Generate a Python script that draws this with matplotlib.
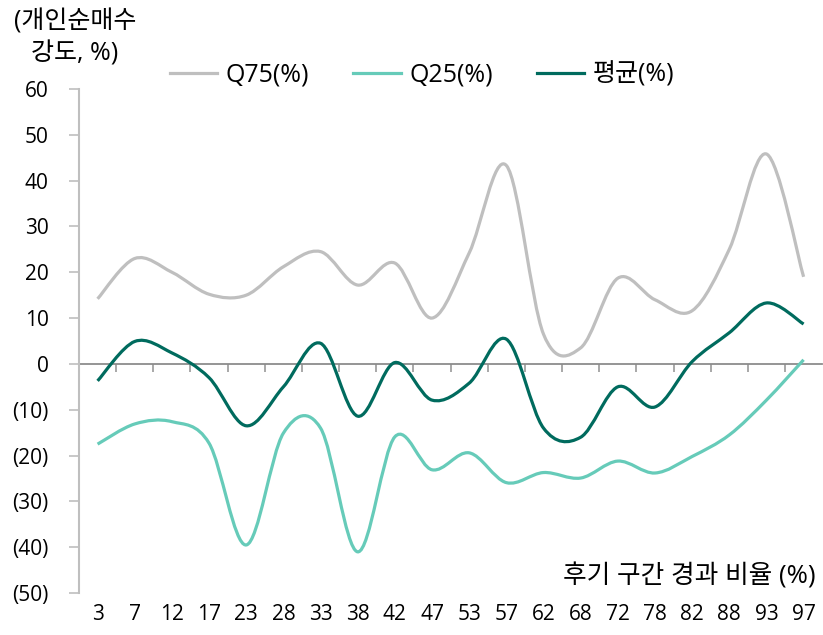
import numpy as np
import matplotlib
matplotlib.use("Agg")
import matplotlib.pyplot as plt
from matplotlib.path import Path
from matplotlib.patches import PathPatch
from matplotlib.lines import Line2D
from matplotlib.ticker import FuncFormatter

plt.rcParams['font.family'] = ['Open Sans', 'Noto Sans CJK KR', 'DejaVu Sans']

# data
categories = ['3', '7', '12', '17', '23', '28', '33', '38', '42', '47',
              '53', '57', '62', '68', '72', '78', '82', '88', '93', '97']
q75 = [14.2, 23.0, 20.0, 15.2, 15.0, 21.2, 24.5, 17.2, 22.0, 10.0,
       24.2, 43.3, 6.5, 3.5, 18.7, 14.0, 11.6, 25.0, 45.8, 19.0]
q25 = [-17.5, -13.1, -12.6, -17.3, -39.5, -15.1, -14.0, -41.0, -15.9, -23.1,
       -19.4, -25.9, -23.7, -24.9, -21.2, -23.8, -20.2, -15.5, -7.9, 0.9]
mean = [-3.7, 4.9, 2.4, -3.0, -13.5, -5.0, 4.5, -11.4, 0.3, -7.9,
        -4.2, 5.4, -14.0, -16.0, -5.0, -9.4, 0.5, 6.8, 13.3, 8.7]

series = [('Q75(%)', q75, '#bfbfbf'),
          ('Q25(%)', q25, '#66cbb9'),
          ('평균(%)', mean, '#006b5e')]


def smooth_path(y):
    # excel style smoothed line (catmull-rom as cubic bezier)
    x = np.arange(len(y), dtype=float)
    p = np.column_stack([x, np.asarray(y, dtype=float)])
    verts = [p[0]]
    codes = [Path.MOVETO]
    n = len(p)
    for i in range(n - 1):
        p0 = p[i - 1] if i > 0 else p[i]
        p3 = p[i + 2] if i + 2 < n else p[i + 1]
        c1 = p[i] + (p[i + 1] - p0) / 6
        c2 = p[i + 1] - (p3 - p[i]) / 6
        verts += [c1, c2, p[i + 1]]
        codes += [Path.CURVE4] * 3
    return Path(verts, codes)


fig = plt.figure(figsize=(8.23, 6.35), dpi=100)
ax = fig.add_axes([0.096, 0.066, 0.903, 0.794])

handles = []
for name, vals, col in series:
    ax.add_patch(PathPatch(smooth_path(vals), facecolor='none', edgecolor=col,
                           lw=2.3, capstyle='butt'))
    handles.append(Line2D([], [], color=col, lw=2.3))

ax.set_xlim(-0.5, len(categories) - 0.5)
ax.set_ylim(-50, 60)
ax.set_yticks(range(-50, 61, 10))
ax.yaxis.set_major_formatter(FuncFormatter(
    lambda v, p: f'({abs(int(v))})' if v < 0 else f'{int(v)}'))
ax.tick_params(axis='y', direction='out', length=7, width=1.2, color='#bfbfbf',
               pad=15, labelsize=15, labelcolor='black')

# labels at the bottom, no marks
ax.set_xticks(range(len(categories)))
ax.set_xticklabels(categories)
ax.tick_params(axis='x', length=0, pad=8, labelsize=15)

for s in ['top', 'right', 'bottom']:
    ax.spines[s].set_visible(False)
ax.spines['left'].set_color('#bfbfbf')
ax.spines['left'].set_linewidth(1.5)

# zero line with tick marks between categories
sec = ax.secondary_xaxis(0, transform=ax.transData)
sec.set_xticks(np.arange(0.5, len(categories) - 0.5, 1.0))
sec.tick_params(axis='x', direction='out', length=6, width=1.2,
                color='#9a9a9a', labelbottom=False)
sec.spines['bottom'].set_color('#8c8c8c')
sec.spines['bottom'].set_linewidth(1.3)

fig.text(0.091, 0.966, '(개인순매수', ha='center', va='center', fontsize=18)
fig.text(0.091, 0.915, '강도, %)', ha='center', va='center', fontsize=18)
fig.text(0.991, 0.092, '후기 구간 경과 비율 (%)', ha='right', va='center',
         fontsize=18.5)

fig.legend(handles, [s[0] for s in series], loc='center',
           bbox_to_anchor=(0.513, 0.882), ncol=3, frameon=False, fontsize=18,
           handlelength=1.9, handletextpad=0.35, columnspacing=1.75)

fig.savefig('out.png', dpi=100)
